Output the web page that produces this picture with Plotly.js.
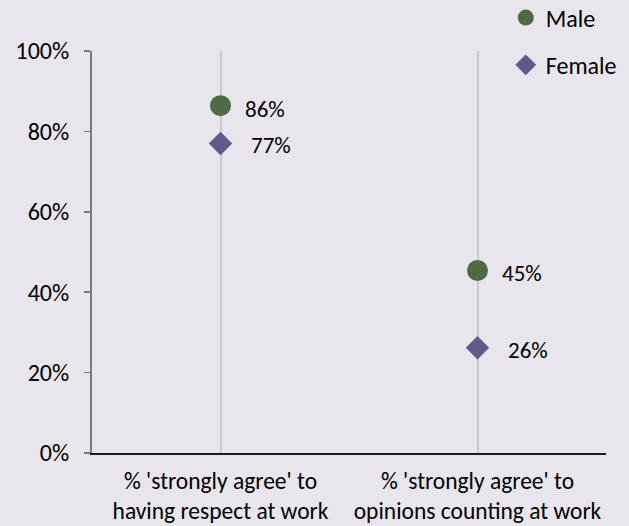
<!DOCTYPE html>
<html>
<head>
<meta charset="utf-8">
<script src="https://cdn.plot.ly/plotly-3.0.1.min.js"></script>
<style>
html,body{margin:0;padding:0;background:#E8E6EC;}
#chart{width:629px;height:526px;}
</style>
</head>
<body>
<div id="chart"></div>
<script>
var categories = ["respect", "opinions"];
var tickLabels = ["% 'strongly agree' to<br>having respect at work", "% 'strongly agree' to<br>opinions counting at work"];
var maleValues = [0.864, 0.454];
var femaleValues = [0.770, 0.262];
var maleLabels = ["86%", "45%"];
var femaleLabels = ["77%", "26%"];

var FONT = "Carlito, 'Liberation Sans', Arial, sans-serif";

var traces = [
  {
    type: "scatter", mode: "markers", name: "Male", legendgroup: "m",
    x: categories, y: maleValues,
    marker: {symbol: "circle", size: 21, color: "#4E6B46"},
    hoverinfo: "skip"
  },
  {
    type: "scatter", mode: "markers", name: "Female", legendgroup: "f",
    x: categories, y: femaleValues,
    marker: {symbol: "diamond", size: 18, color: "#63578E"},
    hoverinfo: "skip"
  }
];

var annotations = [];
categories.forEach(function(c, i){
  annotations.push({x: c, y: maleValues[i], text: maleLabels[i], showarrow: false,
    xanchor: "left", yanchor: "middle", xshift: 22, yshift: -3,
    font: {family: FONT, size: 23, color: "#000"}});
  annotations.push({x: c, y: femaleValues[i], text: femaleLabels[i], showarrow: false,
    xanchor: "left", yanchor: "middle", xshift: 28, yshift: -2,
    font: {family: FONT, size: 23, color: "#000"}});
});

var layout = {
  width: 629, height: 526,
  margin: {l: 92, r: 23, t: 51, b: 73, pad: 0, autoexpand: false},
  paper_bgcolor: "#E8E6EC",
  plot_bgcolor: "#E8E6EC",
  font: {family: FONT, size: 24, color: "#000"},
  showlegend: true,
  legend: {
    x: 0.805, xanchor: "left", y: 1.138, yanchor: "top",
    bgcolor: "rgba(0,0,0,0)", font: {family: FONT, size: 24, color: "#000"},
    tracegroupgap: 13, itemsizing: "trace"
  },
  xaxis: {
    type: "category",
    categoryorder: "array", categoryarray: categories,
    range: [-0.5, 1.5],
    tickvals: categories, ticktext: tickLabels,
    showgrid: true, gridcolor: "#C9C9C9", gridwidth: 2,
    showline: true, linecolor: "#1A1A1A", linewidth: 1.5,
    ticks: "", zeroline: false,
    ticklabelstandoff: 6,
    tickfont: {family: FONT, size: 23.5, color: "#000"},
    fixedrange: true
  },
  yaxis: {
    range: [0, 1], dtick: 0.2, tick0: 0, tickformat: ".0%",
    showgrid: false, zeroline: false,
    showline: true, linecolor: "#7A7A7A", linewidth: 2,
    ticks: "outside", ticklen: 6, tickcolor: "#7A7A7A", tickwidth: 1.5,
    ticklabelstandoff: 10,
    tickfont: {family: FONT, size: 24, color: "#000"},
    fixedrange: true
  },
  annotations: annotations
};

Plotly.newPlot("chart", traces, layout, {displayModeBar: false, staticPlot: true});
</script>
</body>
</html>
